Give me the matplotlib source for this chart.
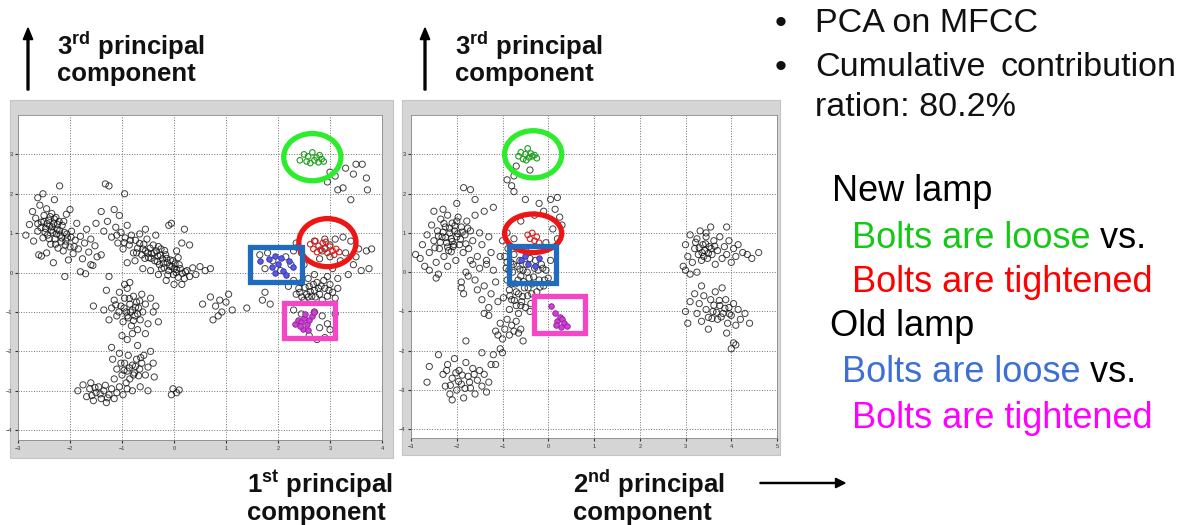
import matplotlib
matplotlib.use('Agg')
import matplotlib.pyplot as plt
from matplotlib.patches import Ellipse, Rectangle, FancyArrow

plt.rcParams['font.family'] = ['Liberation Sans', 'DejaVu Sans']
plt.rcParams['mathtext.fontset'] = 'custom'
plt.rcParams['mathtext.rm'] = 'Liberation Sans'
plt.rcParams['mathtext.bf'] = 'Liberation Sans:bold'

W, H = 1186, 525

# ---- panel 1 : 1st vs 3rd principal component
p1_left = [
    (-2.85, 0.95), (-2.78, 1.22), (-2.72, 1.55), (-2.66, 1.38), (-2.62, 1.05), (-2.58, 1.71), (-2.55, 1.28),
    (-2.52, 0.88), (-2.5, 1.45), (-2.47, 1.12), (-2.45, 1.62), (-2.43, 0.95), (-2.41, 1.33), (-2.39, 1.18),
    (-2.37, 0.72), (-2.35, 1.5), (-2.33, 1.02), (-2.31, 1.25), (-2.29, 0.85), (-2.27, 1.4), (-2.25, 1.1),
    (-2.23, 0.62), (-2.21, 1.3), (-2.19, 0.95), (-2.17, 0.78), (-2.15, 1.2), (-2.13, 0.55), (-2.11, 1.02),
    (-2.09, 0.7), (-2.07, 1.48), (-2.05, 0.88), (-2.03, 0.32), (-2.0, 0.65), (-1.97, 1.05), (-1.94, 0.48),
    (-1.9, 0.82), (-1.87, 1.25), (-1.84, 0.6), (-1.8, 0.92), (-1.76, 0.35), (-1.72, 0.75), (-1.68, 1.1),
    (-1.64, 0.52), (-1.6, 0.85), (-1.56, 0.18), (-1.52, 0.68), (-1.48, 0.4), (-2.6, 0.45), (-2.55, 0.42),
    (-2.52, 2.0), (-2.2, 2.2), (-2.62, 1.9), (-2.32, 0.25), (-2.1, -0.1), (-1.8, 0.02), (-1.7, -0.03),
    (-2.45, 0.5), (-2.7, 0.8), (-2.3, 1.85), (-2.0, 1.6),
]
p1_left_core = [
    (-2.44, 1.24), (-2.36, 1.08), (-2.3, 1.36), (-2.26, 0.98), (-2.4, 0.86), (-2.48, 1.02), (-2.34, 1.16),
    (-2.2, 1.06), (-2.16, 0.88), (-2.28, 0.72), (-2.12, 1.3), (-2.06, 0.98), (-2.56, 1.14), (-2.5, 1.3),
    (-2.24, 1.22), (-2.08, 0.8), (-1.98, 0.9), (-1.92, 0.66), (-2.38, 1.42), (-2.62, 1.24),
]
p1_diag = [
    (-1.32, 2.25), (-1.25, 2.2), (-0.95, 2.0), (-1.15, 1.6), (-1.4, 1.55), (-1.05, 1.45), (-1.5, 1.25),
    (-1.35, 1.05), (-1.28, 1.3), (-1.2, 0.9), (-1.12, 1.15), (-1.08, 0.75), (-1.02, 1.02), (-0.98, 0.6),
    (-0.94, 0.88), (-0.9, 1.2), (-0.86, 0.7), (-0.82, 0.95), (-0.78, 0.5), (-0.74, 0.82), (-0.7, 0.62),
    (-0.66, 0.98), (-0.62, 0.45), (-0.58, 0.72), (-0.55, 0.55), (-0.52, 0.85), (-0.49, 0.38), (-0.46, 0.62),
    (-0.43, 0.48), (-0.4, 0.7), (-0.37, 0.3), (-0.34, 0.55), (-0.31, 0.42), (-0.28, 0.2), (-0.25, 0.6),
    (-0.22, 0.35), (-0.19, 0.12), (-0.16, 0.45), (-0.13, 0.25), (-0.1, 0.05), (-0.07, 0.32), (-0.04, 0.15),
    (-0.01, -0.05), (0.02, 0.22), (0.05, 0.08), (0.08, -0.12), (0.12, 0.1), (0.16, -0.02), (0.2, -0.15),
    (0.25, 0.05), (0.3, -0.1), (0.36, 0.12), (0.42, -0.05), (0.5, 0.15), (0.6, 0.05), (0.7, 0.1),
    (-0.3, -0.05), (-0.15, -0.2), (0.0, -0.3), (0.15, -0.3), (-0.1, 1.2), (-0.05, 1.25), (0.2, 1.1),
    (0.3, 0.7), (0.15, 0.75), (-1.6, 0.2), (-1.25, -0.1), (-1.4, 0.45), (-0.6, 0.1), (-0.45, 0.05),
    (-0.75, 0.3), (-0.9, 0.25), (-0.55, 1.1), (-0.35, 0.95), (0.05, 0.55),
]
p1_diag_core = [
    (-0.5, 0.5), (-0.44, 0.36), (-0.38, 0.5), (-0.32, 0.28), (-0.26, 0.44), (-0.2, 0.24), (-0.14, 0.36),
    (-0.08, 0.16), (-0.02, 0.3), (0.04, 0.0), (0.1, 0.2), (-0.24, 0.1), (-0.12, -0.06), (-0.6, 0.6),
    (-0.66, 0.74), (-0.56, 0.36), (-0.3, 0.66), (-0.18, 0.56), (0.0, 0.1), (-0.72, 0.5), (-0.84, 0.82),
    (-0.96, 0.76), (-1.1, 0.95), (0.08, 0.38), (0.22, 0.02),
]
p1_mid = [
    (-1.55, -0.85), (-1.3, -0.45), (-1.2, -0.9), (-1.15, -0.7), (-1.1, -1.1), (-1.05, -0.5), (-1.02, -0.85),
    (-0.98, -1.25), (-0.95, -0.65), (-0.92, -1.0), (-0.9, -0.4), (-0.88, -1.15), (-0.85, -0.8), (-0.82, -1.35),
    (-0.8, -0.95), (-0.78, -0.6), (-0.75, -1.1), (-0.72, -0.75), (-0.7, -1.45), (-0.68, -0.9), (-0.65, -1.2),
    (-0.62, -0.55), (-0.6, -1.0), (-0.55, -0.8), (-0.5, -1.3), (-0.45, -0.65), (-0.4, -1.0), (-0.35, -0.85),
    (-0.95, -0.3), (-0.85, -0.25), (-1.0, -1.6), (-0.9, -1.7), (-0.8, -1.55), (-0.55, -1.55), (-1.25, -1.2),
    (-0.3, -1.25), (-1.35, -0.95),
    (-0.96, -0.9), (-0.9, -1.1), (-0.84, -1.0), (-0.78, -1.22), (-0.74, -0.88), (-0.7, -1.05), (-1.06, -1.0),
    (-0.66, -0.72), (-0.86, -0.66), (-1.12, -0.82),
]
p1_low = [
    (-1.2, -1.9), (-1.18, -2.2), (-1.1, -2.45), (-1.05, -2.05), (-1.0, -2.6), (-0.95, -2.3), (-0.9, -2.5),
    (-0.88, -2.1), (-0.85, -2.7), (-0.8, -2.35), (-0.76, -2.55), (-0.72, -2.2), (-0.7, -1.85), (-0.66, -2.45),
    (-0.62, -2.3), (-0.58, -2.1), (-0.55, -2.6), (-0.5, -2.4), (-0.45, -2.0), (-0.4, -2.3), (-0.38, -2.65),
    (-1.15, -2.7), (-0.92, -2.8),
    (-0.86, -2.42), (-0.78, -2.6), (-0.74, -2.38), (-0.68, -2.62), (-0.96, -2.48), (-0.64, -2.16), (-1.02, -2.3),
]
p1_base = [
    (-1.75, -2.85), (-1.68, -3.15), (-1.62, -2.95), (-1.55, -3.25), (-1.5, -3.05), (-1.45, -2.9), (-1.4, -3.2),
    (-1.35, -3.0), (-1.3, -3.3), (-1.25, -3.1), (-1.2, -2.95), (-1.15, -3.2), (-1.1, -3.05), (-1.05, -2.9),
    (-0.98, -3.1), (-0.9, -2.95), (-0.8, -3.0), (-0.65, -2.9), (-0.5, -3.0), (-1.6, -2.8), (-1.85, -3.0),
    (-0.02, -2.95), (0.05, -3.05), (-0.05, -3.1), (0.1, -2.98),
    (-1.52, -2.92), (-1.42, -3.08), (-1.32, -2.86), (-1.28, -3.18), (-1.58, -3.12),
]
p1_gap = [
    (0.55, -0.8), (0.7, -0.62), (0.8, -0.85), (0.88, -0.7), (0.92, -1.0), (1.0, -0.75), (0.85, -1.1),
    (0.75, -1.2), (1.05, -0.55), (1.4, -0.9), (1.12, -0.95), (1.7, -0.7), (1.85, -0.8), (1.75, -0.5),
]
p1_right = [
    (2.35, 0.75), (2.45, 0.5), (3.1, 0.85), (3.25, 0.9), (3.4, 0.8), (3.55, 0.6), (3.7, 0.55), (3.5, 0.4),
    (3.3, 0.5), (3.2, 0.3), (3.45, 0.2), (3.6, 0.05), (3.0, 0.4), (2.8, 0.35), (2.9, 0.6), (3.05, 0.1),
    (3.35, -0.05), (3.15, -0.15), (2.95, -0.1), (2.7, -0.05), (2.5, 0.2), (2.3, -0.2), (2.4, -0.4),
    (2.45, -0.25), (2.55, -0.55), (2.6, -0.35), (2.65, -0.6), (2.7, -0.45), (2.75, -0.25), (2.8, -0.55),
    (2.85, -0.7), (2.9, -0.4), (2.95, -0.6), (3.0, -0.3), (3.05, -0.5), (3.1, -0.65), (3.15, -0.4),
    (2.5, -0.7), (2.35, -0.55), (2.2, -0.35), (2.58, -0.15), (2.88, -0.2), (3.8, 0.6), (3.75, 0.1),
    (2.7, 0.8), (2.9, 0.85), (3.0, 0.7), (2.85, 0.55),
    (2.42, -0.5), (2.52, -0.38), (2.62, -0.48), (2.72, -0.62), (2.78, -0.4), (2.68, -0.3), (2.98, -0.45),
    (2.58, -0.62), (2.46, -0.62), (2.83, -0.34),
]
p1_top = [
    (3.1, 2.45), (3.25, 2.15), (3.3, 2.65), (3.45, 2.5), (3.5, 2.75), (3.62, 2.75), (3.7, 2.4), (3.72, 2.1),
    (3.4, 1.85), (3.15, 2.1), (3.0, 2.55), (2.95, 2.3),
]
p1_near_boxes = [
    (2.3, -0.95), (2.45, -1.05), (2.7, -1.0), (2.85, -1.1), (2.95, -1.3), (3.0, -1.45), (2.8, -1.4),
    (2.6, -1.6), (2.75, -1.7), (2.9, -1.65), (3.1, -1.05), (1.65, 0.45), (1.8, 0.5), (1.9, 0.3),
    (2.15, 0.4), (2.05, 0.05), (1.75, 0.1), (2.3, 0.55), (2.25, 0.2),
]
p1_green = [(2.42, 2.85), (2.5, 3.0), (2.58, 2.95), (2.62, 2.78), (2.66, 3.05), (2.7, 2.85), (2.74, 2.92),
            (2.78, 2.8), (2.8, 2.98), (2.84, 2.88), (2.88, 2.82), (2.55, 2.82)]
p1_red = [(2.62, 0.72), (2.68, 0.6), (2.72, 0.8), (2.78, 0.68), (2.82, 0.58), (2.86, 0.75), (2.9, 0.62),
          (2.95, 0.5), (3.0, 0.66), (3.05, 0.55), (3.12, 0.6), (3.18, 0.52), (2.75, 0.52), (2.92, 0.78), (3.08, 0.45)]
p1_blue = [(1.65, 0.3), (1.82, 0.35), (1.88, 0.15), (1.95, 0.42), (2.0, 0.22), (2.05, 0.38), (2.1, 0.05),
           (2.15, -0.05), (2.22, 0.3), (2.28, 0.15), (1.95, 0.0), (2.35, 0.65)]
p1_magenta = [(2.32, -1.3), (2.38, -1.2), (2.45, -1.25), (2.5, -1.15), (2.55, -1.3), (2.6, -1.2), (2.65, -1.1),
              (2.48, -1.42), (2.58, -1.45), (2.7, -1.0), (2.42, -1.35), (2.52, -1.05)]

# ---- panel 2 : 2nd vs 3rd principal component
p2_left = [
    (-2.9, 0.45), (-2.8, 0.35), (-2.75, 0.7), (-2.7, 0.15), (-2.65, 0.95), (-2.6, 0.5), (-2.55, 1.2),
    (-2.5, 0.8), (-2.45, 0.25), (-2.42, 1.05), (-2.38, 0.6), (-2.35, 1.35), (-2.32, 0.9), (-2.28, 0.4),
    (-2.25, 1.15), (-2.22, 0.75), (-2.2, 1.45), (-2.18, 0.55), (-2.15, 1.0), (-2.12, 0.85), (-2.1, 1.25),
    (-2.08, 0.65), (-2.05, 1.05), (-2.02, 0.3), (-2.0, 0.9), (-1.97, 1.4), (-1.94, 0.7), (-1.9, 1.15),
    (-1.86, 0.5), (-1.82, 0.95), (-1.78, 1.3), (-1.74, 0.6), (-1.7, 1.05), (-1.65, 0.8), (-1.6, 1.45),
    (-1.55, 0.4), (-1.5, 1.0), (-1.45, 0.7), (-1.4, 1.55), (-1.35, 0.2), (-1.3, 0.9), (-1.25, 0.5),
    (-1.2, 1.65), (-2.45, -0.15), (-2.4, -0.05), (-2.6, 0.05), (-1.8, 0.0), (-1.7, 0.3), (-2.5, 1.55),
    (-2.3, 1.6), (-1.85, 2.15), (-1.7, 2.1), (-1.6, 1.85), (-2.0, 1.75), (-1.9, -0.25), (-2.2, 0.15),
]
p2_left_core = [
    (-2.3, 1.02), (-2.24, 0.88), (-2.16, 1.12), (-2.1, 0.78), (-2.04, 1.18), (-1.98, 0.98), (-2.2, 0.64),
    (-2.36, 0.76), (-2.12, 0.52), (-1.92, 0.84), (-2.28, 1.24), (-2.06, 0.7), (-1.88, 1.02), (-2.4, 0.92),
    (-2.0, 1.3), (-1.8, 0.72), (-2.48, 0.62), (-1.76, 1.12),
]
p2_center = [
    (-0.95, 0.4), (-0.92, 0.1), (-0.9, -0.2), (-0.88, 0.6), (-0.85, -0.45), (-0.82, 0.25), (-0.8, -0.7),
    (-0.78, 0.0), (-0.75, 0.45), (-0.72, -0.3), (-0.7, -0.85), (-0.68, 0.15), (-0.65, -0.55), (-0.62, 0.3),
    (-0.6, -0.1), (-0.58, -0.75), (-0.55, 0.05), (-0.52, -0.4), (-0.5, -0.9), (-0.48, 0.2), (-0.45, -0.6),
    (-0.42, -0.15), (-0.4, 0.35), (-0.38, -0.8), (-0.35, -0.3), (-0.3, 0.1), (-0.25, -0.5), (-0.2, -0.2),
    (-0.15, 0.2), (-0.1, -0.35), (-0.05, 0.05), (0.0, -0.15), (0.05, 0.3), (-0.98, -0.65), (-1.0, 0.8),
    (-0.9, 1.0), (-0.75, 0.85), (-0.6, 1.3), (-0.3, 1.45), (-0.2, 1.75), (-0.1, 1.55), (0.05, 1.85),
    (0.15, 1.6), (0.25, 1.4), (0.3, 1.2), (0.2, 1.9), (-0.5, 1.85), (-0.8, 2.2), (-0.9, 2.35), (-0.75, 2.05),
    (0.1, 1.1), (0.2, 0.85), (-0.05, 0.75), (-0.4, -1.0), (-0.65, -1.05), (-0.85, -0.95),
    (-0.7, 2.7), (-0.4, 2.6), (-0.75, 2.45),
]
p2_center_core = [
    (-0.86, 0.05), (-0.8, -0.3), (-0.76, 0.2), (-0.7, -0.5), (-0.66, -0.2), (-0.62, 0.08), (-0.56, -0.62),
    (-0.54, -0.24), (-0.46, 0.0), (-0.44, -0.4), (-0.36, -0.55), (-0.32, -0.12), (-0.28, 0.3), (-0.18, -0.38),
    (-0.12, 0.1), (-0.84, -0.6), (-0.74, -0.72), (-0.6, -0.85), (-0.9, 0.25), (-0.5, 0.55), (-0.22, 0.05),
    (-0.08, -0.2),
]
p2_bridge = [
    (-1.65, 0.2), (-1.6, -0.2), (-1.55, -0.45), (-1.5, 0.1), (-1.45, -0.7), (-1.4, -0.35), (-1.35, 0.3),
    (-1.3, -0.9), (-1.25, -0.55), (-1.2, 0.05), (-1.15, -0.25), (-1.1, -0.75), (-1.05, 0.4), (-1.4, -1.05),
    (-1.3, -1.1), (-1.75, -0.1), (-1.9, -0.4), (-1.85, -0.55),
]
p2_low = [
    (-1.15, -1.5), (-1.1, -1.6), (-1.05, -1.3), (-1.0, -1.7), (-0.95, -1.45), (-0.9, -1.2), (-0.85, -1.6),
    (-0.8, -1.35), (-0.75, -1.5), (-0.7, -1.25), (-0.65, -1.55), (-0.6, -1.45), (-1.05, -1.95), (-1.0, -2.05),
    (-1.2, -2.1), (-1.15, -2.35), (-0.55, -1.75),
]
p2_base = [
    (-2.3, -2.6), (-2.25, -2.9), (-2.2, -2.35), (-2.15, -3.1), (-2.1, -2.7), (-2.05, -2.2), (-2.0, -3.0),
    (-1.95, -2.5), (-1.9, -2.85), (-1.85, -3.2), (-1.8, -2.3), (-1.75, -2.65), (-1.7, -2.95), (-1.65, -2.45),
    (-1.6, -3.1), (-1.55, -2.75), (-1.5, -2.5), (-1.45, -2.9), (-1.4, -2.6), (-1.35, -3.05), (-1.3, -2.8),
    (-2.1, -3.25), (-2.4, -2.1), (-2.6, -2.4), (-2.65, -2.8), (-1.8, -1.75), (-1.45, -2.05), (-1.25, -2.35),
    (-2.02, -2.56), (-1.96, -2.78), (-1.88, -2.62), (-1.82, -2.96), (-1.72, -2.8), (-2.14, -2.88),
    (-1.62, -2.6), (-2.22, -2.5),
]
p2_east = [
    (2.95, 0.15), (3.0, 0.7), (3.05, 0.4), (3.1, 0.95), (3.15, 0.25), (3.2, 0.6), (3.25, 0.85), (3.28, 0.45),
    (3.32, 1.05), (3.35, 0.3), (3.38, 0.7), (3.42, 0.55), (3.45, 0.9), (3.48, 0.35), (3.52, 0.65), (3.55, 1.15),
    (3.58, 0.45), (3.62, 0.8), (3.65, 0.2), (3.7, 0.55), (3.75, 0.9), (3.8, 0.35), (3.85, 0.65), (3.9, 0.45),
    (3.95, 0.8), (4.0, 0.25), (4.05, 0.6), (4.1, 0.4), (4.15, 0.7), (4.25, 0.5), (4.35, 0.45), (4.45, 0.35),
    (4.6, 0.5), (3.1, -0.05), (3.25, 0.0), (3.0, 0.05), (3.9, 1.15), (3.45, 1.0),
    (3.3, 0.62), (3.36, 0.5), (3.44, 0.72), (3.5, 0.48), (3.56, 0.6), (3.4, 0.4), (3.64, 0.66), (3.22, 0.76),
]
p2_east_low = [
    (3.0, -1.0), (3.05, -1.3), (3.1, -0.75), (3.2, -0.55), (3.25, -1.05), (3.3, -0.8), (3.35, -1.25),
    (3.4, -0.6), (3.45, -0.95), (3.5, -1.15), (3.55, -0.7), (3.6, -1.0), (3.65, -0.5), (3.7, -1.2),
    (3.75, -0.85), (3.8, -0.4), (3.82, -1.05), (3.88, -0.7), (3.92, -1.3), (3.95, -0.9), (4.0, -1.1),
    (4.05, -0.8), (4.1, -1.35), (4.15, -0.95), (4.2, -1.2), (4.3, -1.05), (4.4, -1.3), (3.5, -1.45),
    (3.9, -1.55), (4.05, -1.8), (4.1, -1.85), (4.0, -1.95), (3.35, -0.35),
    (3.62, -0.84), (3.68, -1.02), (3.74, -0.72), (3.78, -1.14), (3.86, -0.92), (3.58, -1.18), (3.96, -1.06),
]
p2_green = [(-0.65, 2.95), (-0.6, 3.05), (-0.55, 2.88), (-0.5, 3.0), (-0.45, 3.15), (-0.42, 2.92),
            (-0.38, 3.02), (-0.35, 2.95), (-0.3, 2.98), (-0.25, 2.9), (-0.48, 2.85)]
p2_red = [(-0.45, 0.95), (-0.4, 0.85), (-0.35, 1.0), (-0.3, 0.8), (-0.25, 0.9), (-0.2, 0.75)]
p2_blue = [(-0.6, 0.3), (-0.45, 0.2), (-0.3, 0.15), (-0.5, 0.4), (-0.2, 0.35)]
p2_magenta = [(0.05, -0.85), (0.15, -1.05), (0.2, -1.25), (0.25, -1.15), (0.3, -1.2), (0.35, -1.3),
              (0.28, -1.4), (0.4, -1.38), (0.18, -1.35)]

# ellipses: (cx, cy, w, h), boxes: (x0, y0, x1, y1)
p1_green_ring = (2.66, 2.93, 1.10, 1.20)
p1_red_ring = (2.95, 0.76, 1.10, 1.22)
p1_blue_box = (1.47, -0.23, 2.47, 0.66)
p1_pink_box = (2.11, -1.65, 3.09, -0.76)
p2_green_ring = (-0.33, 3.0, 1.25, 1.2)
p2_red_ring = (-0.33, 0.99, 1.25, 0.98)
p2_blue_box = (-0.86, -0.28, 0.17, 0.66)
p2_pink_box = (-0.31, -1.55, 0.80, -0.61)

GREEN_RING = '#2cec2c'
RED_RING = '#ee1515'
BLUE_BOX = '#1f6cbf'
PINK_BOX = '#f646c8'


def fig_rect(left, top, right, bottom):
    return [left / W, 1 - bottom / H, (right - left) / W, (bottom - top) / H]


def xs(pts):
    return [p[0] for p in pts]


def ys(pts):
    return [p[1] for p in pts]


def draw_panel(ax, black, green, red, blue, magenta, rings, boxes, xlim, ylim):
    ax.set_xlim(*xlim)
    ax.set_ylim(*ylim)
    ax.set_xticks(range(int(xlim[0]), int(xlim[1]) + 1))
    ax.set_yticks(range(-4, 4))
    ax.grid(True, linestyle=':', color='#707070', linewidth=0.7)
    ax.set_axisbelow(True)
    ax.tick_params(labelsize=4, length=2, pad=2, colors='#333333')
    for s in ax.spines.values():
        s.set_color('#888888')
        s.set_linewidth(0.6)
    ax.scatter(xs(black), ys(black), s=20, facecolors='none', edgecolors='#111111',
               linewidths=0.7, alpha=0.8, zorder=3)
    ax.scatter(xs(green), ys(green), s=16, facecolors='none', edgecolors='#1e9e1e', linewidths=0.8, zorder=4)
    ax.scatter(xs(red), ys(red), s=16, facecolors='none', edgecolors='#d42020', linewidths=0.8, zorder=4)
    ax.scatter(xs(blue), ys(blue), s=16, facecolors='#5a5ae0', edgecolors='#3030b0', linewidths=0.6, zorder=4)
    ax.scatter(xs(magenta), ys(magenta), s=16, facecolors='#d040d8', edgecolors='#902090', linewidths=0.6, zorder=4)
    for (cx, cy, w, h), col in zip(rings, [GREEN_RING, RED_RING]):
        ax.add_patch(Ellipse((cx, cy), w, h, fill=False, edgecolor=col, linewidth=3.8, zorder=6))
    for (x0, y0, x1, y1), col in zip(boxes, [BLUE_BOX, PINK_BOX]):
        ax.add_patch(Rectangle((x0, y0), x1 - x0, y1 - y0, fill=False, edgecolor=col, linewidth=3.8, zorder=6))


fig = plt.figure(figsize=(W / 100, H / 100), dpi=100)
fig.patch.set_facecolor('white')

# gray frames behind the two plots
for l, t, r, b in [(10, 100, 393, 458), (402, 100, 780, 455)]:
    rr = fig_rect(l, t, r, b)
    fig.patches.append(Rectangle((rr[0], rr[1]), rr[2], rr[3], transform=fig.transFigure,
                                 facecolor='#d5d5d5', edgecolor='#c4c4c4', linewidth=0.8, zorder=-5))

ax1 = fig.add_axes(fig_rect(18, 115, 382, 440))
draw_panel(ax1, p1_left + p1_left_core + p1_diag + p1_diag_core + p1_mid + p1_low + p1_base + p1_gap
           + p1_right + p1_top + p1_near_boxes,
           p1_green, p1_red, p1_blue, p1_magenta,
           [p1_green_ring, p1_red_ring], [p1_blue_box, p1_pink_box], (-3, 4), (-4.25, 4.0))

ax2 = fig.add_axes(fig_rect(411, 115, 777, 438))
draw_panel(ax2, p2_left + p2_left_core + p2_center + p2_center_core + p2_bridge + p2_low + p2_base
           + p2_east + p2_east_low,
           p2_green, p2_red, p2_blue, p2_magenta,
           [p2_green_ring, p2_red_ring], [p2_blue_box, p2_pink_box], (-3, 5), (-4.22, 4.0))


def ftext(x, y, s, **kw):
    return fig.text(x / W, 1 - y / H, s, **kw)


bold = dict(fontsize=18.5, fontweight='bold', color='#111111', va='center', ha='left')

# vertical arrows and axis captions
for ax_x, tx in [(28, 57), (425, 455)]:
    fig.add_artist(FancyArrow(ax_x / W, 1 - 90 / H, 0, 62 / H, width=0.0016, head_width=0.008,
                              head_length=0.022, length_includes_head=True, color='black',
                              transform=fig.transFigure))
    ftext(tx, 46, r'$\mathbf{3^{rd}}$ principal', **bold)
    ftext(tx, 74, 'component', **bold)

ftext(247, 484, r'$\mathbf{1^{st}}$ principal', **bold)
ftext(247, 513, 'component', **bold)
ftext(573, 484, r'$\mathbf{2^{nd}}$ principal', **bold)
ftext(573, 513, 'component', **bold)
fig.add_artist(FancyArrow(760 / W, 1 - 483 / H, 85 / W, 0, width=0.002, head_width=0.018,
                          head_length=0.008, length_includes_head=True, color='black',
                          transform=fig.transFigure))

# bullet notes
note = dict(fontsize=24.5, color='#111111', va='center', ha='left')
ftext(775, 24, '•', **note)
ftext(815, 24, 'PCA on MFCC', **note)
ftext(775, 68, '•', **note)
ftext(815, 68, 'Cumulative', **note)
ftext(1177, 68, 'contribution', fontsize=24.5, color='#111111', va='center', ha='right')
ftext(815, 108, 'ration: 80.2%', **note)

# colour key
key = dict(fontsize=26, va='center', ha='left')
ftext(832, 192, 'New lamp', color='black', **key)
t = ftext(852, 238, 'Bolts are loose', color='#16c816', **key)
plt.annotate(' vs.', xy=(1, 0), xycoords=t, va='bottom', ha='left', fontsize=26, color='black',
             annotation_clip=False)
ftext(852, 282, 'Bolts are tightened', color='#ff0000', **key)
ftext(830, 327, 'Old lamp', color='black', **key)
t2 = ftext(842, 373, 'Bolts are loose', color='#3d6fd6', **key)
plt.annotate(' vs.', xy=(1, 0), xycoords=t2, va='bottom', ha='left', fontsize=26, color='black',
             annotation_clip=False)
ftext(852, 418, 'Bolts are tightened', color='#ff00ff', **key)

fig.savefig('out.png', dpi=100)
